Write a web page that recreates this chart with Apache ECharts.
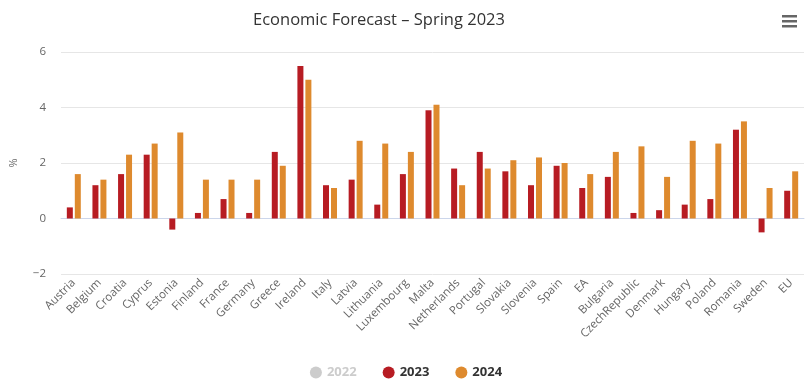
<!DOCTYPE html>
<html><head><meta charset="utf-8">
<script src="https://cdn.jsdelivr.net/npm/echarts@6/dist/echarts.min.js"></script>
<style>html,body{margin:0;padding:0;background:#fff}#c{width:812px;height:390px}</style>
</head><body><div id="c"></div>
<script>
const categories = ["Austria","Belgium","Croatia","Cyprus","Estonia","Finland","France","Germany","Greece","Ireland","Italy","Latvia","Lithuania","Luxembourg","Malta","Netherlands","Portugal","Slovakia","Slovenia","Spain","EA","Bulgaria","CzechRepublic","Denmark","Hungary","Poland","Romania","Sweden","EU"];
const values2022 = [];
const values2023 = [0.4,1.2,1.6,2.3,-0.4,0.2,0.7,0.2,2.4,5.5,1.2,1.4,0.5,1.6,3.9,1.8,2.4,1.7,1.2,1.9,1.1,1.5,0.2,0.3,0.5,0.7,3.2,-0.5,1.0];
const values2024 = [1.6,1.4,2.3,2.7,3.1,1.4,1.4,1.4,1.9,5.0,1.1,2.8,2.7,2.4,4.1,1.2,1.8,2.1,2.2,2.0,1.6,2.4,2.6,1.5,2.8,2.7,3.5,1.1,1.7];
const yTicks = [-2,0,2,4,6];

const font = '"Open Sans", "DejaVu Sans", sans-serif';
const chart = echarts.init(document.getElementById('c'), null, {renderer:'canvas'});
chart.setOption({
  animation:false,
  color:['#c8c8c8','#b71c23','#de8a2e'],
  title:{text:'Economic Forecast – Spring 2023', left:374, top:7, textAlign:'center',
    textStyle:{fontFamily:font, fontSize:16.5, fontWeight:'normal', color:'#333'}},
  legend:{bottom:6, left:'center', itemGap:26, itemWidth:12, itemHeight:12, icon:'circle',
    selected:{'2022':false}, inactiveColor:'#cccccc',
    textStyle:{fontFamily:font, fontSize:13, fontWeight:'bold', color:'#333'},
    data:['2022','2023','2024']},
  grid:{left:59, right:8, top:52, bottom:116},
  xAxis:{type:'category', data:categories,
    axisLine:{lineStyle:{color:'#ccd6eb'}}, axisTick:{show:false},
    axisLabel:{rotate:45, interval:0, fontFamily:font, fontSize:11.5, color:'#666', margin:7}},
  yAxis:{type:'value', min:-2, max:6, interval:2, name:'%', nameLocation:'middle', nameGap:42,
    nameTextStyle:{fontFamily:font, fontSize:11, color:'#666'},
    axisLine:{show:false}, axisTick:{show:false},
    axisLabel:{fontFamily:font, fontSize:11.5, color:'#666', margin:15,
      formatter:v=>String(v).replace('-','\u2212')},
    splitLine:{lineStyle:{color:'#e6e6e6'}}},
  graphic:[
    {type:'rect', left:782, top:15, shape:{width:15,height:2.5}, style:{fill:'#666'}},
    {type:'rect', left:782, top:20, shape:{width:15,height:2.5}, style:{fill:'#666'}},
    {type:'rect', left:782, top:25, shape:{width:15,height:2.5}, style:{fill:'#666'}}
  ],
  series:[
    {name:'2022', type:'bar', data:values2022, barWidth:6, barGap:'33%'},
    {name:'2023', type:'bar', data:values2023, barWidth:6, barGap:'33%'},
    {name:'2024', type:'bar', data:values2024, barWidth:6, barGap:'33%'}
  ]
});
</script></body></html>
